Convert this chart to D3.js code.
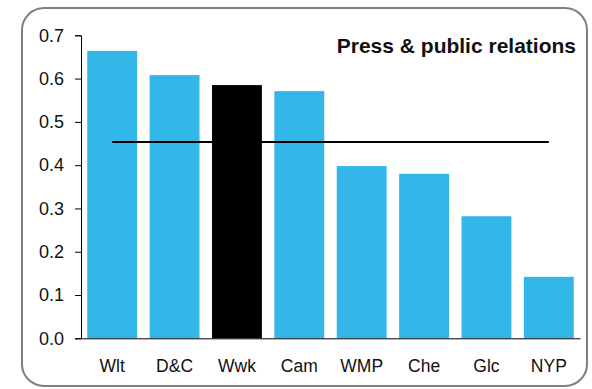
<!DOCTYPE html>
<html><head><meta charset="utf-8">
<script src="https://cdn.jsdelivr.net/npm/d3@7"></script>
<style>body{margin:0;background:#fff}svg{display:block}text{font-family:"Liberation Sans",Arial,sans-serif}</style>
</head><body>
<svg id="c" width="592" height="389"></svg>
<script>
const categories = ["Wlt","D&C","Wwk","Cam","WMP","Che","Glc","NYP"];
const values = [0.664,0.608,0.585,0.571,0.398,0.380,0.282,0.142];
const highlight = ["Wwk"];
const average = 0.4535;
const yTicks = [0,0.1,0.2,0.3,0.4,0.5,0.6,0.7];
const title = "Press & public relations";

const svg = d3.select("#c");
svg.append("rect").attr("x",22).attr("y",8).attr("width",565).attr("height",378)
  .attr("rx",22).attr("ry",22).attr("fill","#fff").attr("stroke","#808080").attr("stroke-width",2);

const x = d3.scaleBand().domain(categories).range([81,580]).paddingInner(0.2).paddingOuter(0.1);
const y = d3.scaleLinear().domain([0,0.7]).range([338.3,35.3]);

svg.append("g").selectAll("rect").data(categories).join("rect")
  .attr("x",d=>x(d)).attr("width",x.bandwidth())
  .attr("y",(d,i)=>y(values[i])).attr("height",(d,i)=>y(0)-y(values[i]))
  .attr("fill",d=>highlight.includes(d)?"#000":"#33b7e8");

const line = d3.line().x(d=>x(d)+x.bandwidth()/2).y(()=>y(average));
svg.append("path").attr("d",line(categories)).attr("fill","none").attr("stroke","#000").attr("stroke-width",2);

const ya = svg.append("g").attr("transform","translate(81,0)")
  .call(d3.axisLeft(y).tickValues(yTicks).tickFormat(d3.format(".1f")).tickSize(6).tickPadding(11));
ya.select(".domain").attr("stroke","#000");
ya.selectAll("text").attr("font-size",18).attr("fill","#111").style("font-family","'Liberation Sans',Arial,sans-serif");

const xa = svg.append("g").attr("transform","translate(0,338.3)")
  .call(d3.axisBottom(x).tickSize(0).tickPadding(21));
xa.select(".domain").attr("stroke","#000");
xa.selectAll("text").attr("font-size",17.5).attr("fill","#111").style("font-family","'Liberation Sans',Arial,sans-serif");

svg.append("text").attr("x",576).attr("y",52.5).attr("text-anchor","end")
  .attr("font-size",21).attr("font-weight","bold").attr("fill","#111").text(title);
</script>
</body></html>
